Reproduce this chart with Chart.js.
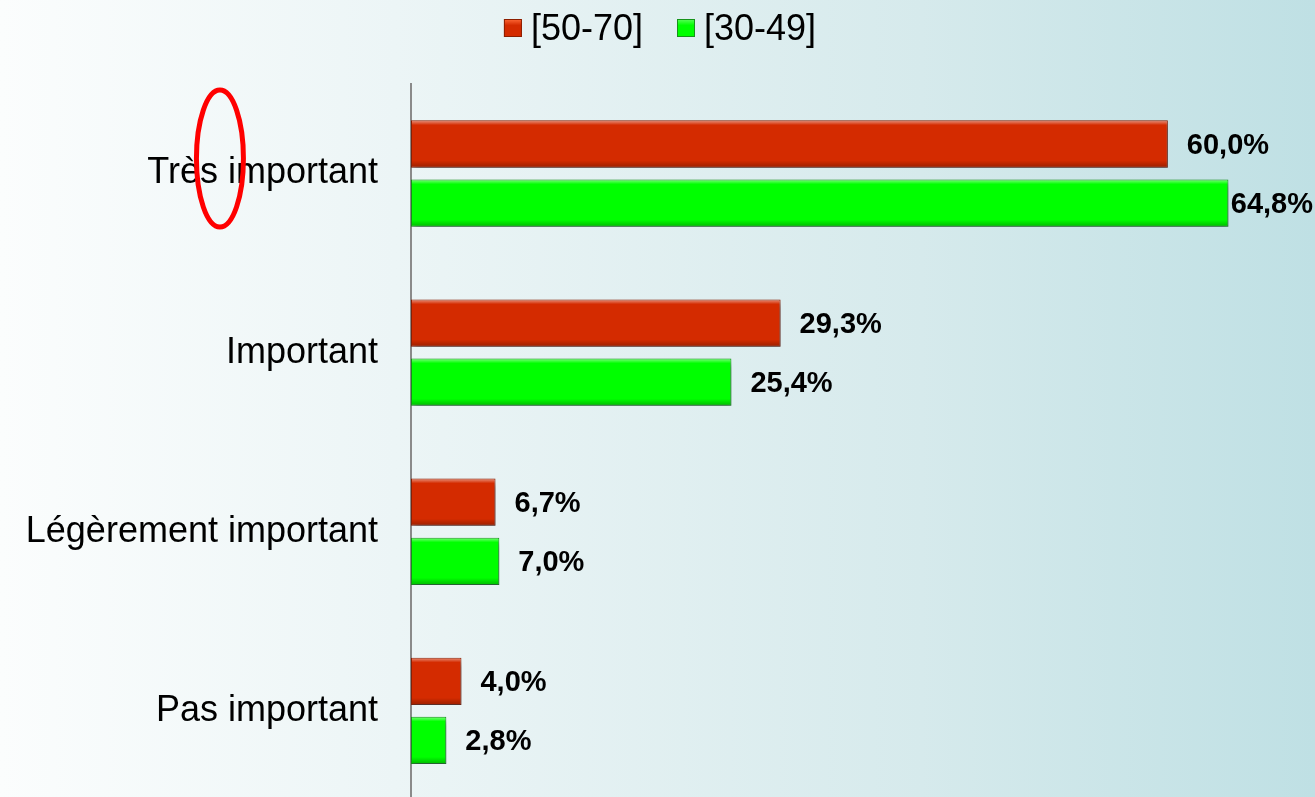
<!DOCTYPE html>
<html>
<head>
<meta charset="utf-8">
<script src="https://cdn.jsdelivr.net/npm/chart.js@4/dist/chart.umd.min.js"></script>
<style>
  html, body { margin: 0; padding: 0; overflow: hidden; background: #fff; }
  #wrap { position: relative; width: 1315px; height: 855px; }
</style>
</head>
<body>
<div id="wrap"><canvas id="c"></canvas></div>
<script>
// ---- data ----
const categories = ['Très important', 'Important', 'Légèrement important', 'Pas important'];
const seriesLabels = ['[50-70]', '[30-49]'];
const values5070 = [60.0, 29.3, 6.7, 4.0];
const values3049 = [64.8, 25.4, 7.0, 2.8];

const FONT = '"Liberation Sans", Arial, sans-serif';
const styles = [
  { base: '#d42b00', light: '#ff6a38', dark: '#8c1e00' },
  { base: '#00ff00', light: '#5cff5c', dark: '#17931a' }
];

function fmt(v) { return v.toFixed(1).replace('.', ',') + '%'; }

const bgPlugin = {
  id: 'bg',
  beforeDraw(chart) {
    const { ctx, width, height } = chart;
    const g = ctx.createLinearGradient(0, 0, width, 0);
    g.addColorStop(0, '#fbfdfd');
    g.addColorStop(0.3, '#ecf5f6');
    g.addColorStop(0.7, '#d6eaec');
    g.addColorStop(1, '#bfe0e4');
    ctx.save();
    ctx.fillStyle = g;
    ctx.fillRect(0, 0, width, height);
    ctx.restore();
  }
};

const shadowPlugin = {
  id: 'barShadow',
  beforeDatasetsDraw(chart) {
    const ctx = chart.ctx;
    ctx.save();
    ctx.shadowColor = 'rgba(50,60,70,0.6)';
    ctx.shadowBlur = 6;
    ctx.shadowOffsetX = 2;
    ctx.shadowOffsetY = 5;
  },
  afterDatasetsDraw(chart) {
    chart.ctx.restore();
    const ctx = chart.ctx;
    chart.data.datasets.forEach((ds, di) => {
      const meta = chart.getDatasetMeta(di);
      meta.data.forEach((el, i) => {
        const p = el.getProps(['x', 'y', 'base', 'height'], true);
        const left = Math.min(p.base, p.x), right = Math.max(p.base, p.x);
        const top = p.y - p.height / 2, bottom = p.y + p.height / 2;
        const g = ctx.createLinearGradient(0, top, 0, bottom);
        g.addColorStop(0, 'rgba(255,255,255,0.5)');
        g.addColorStop(0.1, 'rgba(255,255,255,0.0)');
        g.addColorStop(0.85, 'rgba(0,0,0,0.0)');
        g.addColorStop(1, 'rgba(0,0,0,0.28)');
        ctx.save();
        ctx.fillStyle = g;
        ctx.fillRect(left + 1, top + 1, right - left - 2, bottom - top - 2);
        ctx.restore();
        ctx.save();
        ctx.font = 'bold 29px ' + FONT;
        ctx.fillStyle = '#000';
        ctx.textBaseline = 'middle';
        ctx.textAlign = 'left';
        const txt = fmt(ds.data[i]);
        const w = ctx.measureText(txt).width;
        let tx = right + 19;
        if (tx + w > chart.width - 2) tx = chart.width - 2 - w;
        ctx.fillText(txt, tx, p.y + 2);
        ctx.restore();
      });
    });
  }
};

const legendPlugin = {
  id: 'customLegend',
  afterDraw(chart) {
    const ctx = chart.ctx;
    ctx.save();
    ctx.font = '36px ' + FONT;
    const box = 18, gapText = 9, gapItem = 34;
    const widths = chart.data.datasets.map(d => box + gapText + ctx.measureText(d.label).width);
    const total = widths.reduce((a, b) => a + b, 0) + gapItem * (widths.length - 1);
    let x = 660 - total / 2;
    const cy = 28;
    chart.data.datasets.forEach((d, i) => {
      const st = styles[i];
      const g = ctx.createLinearGradient(0, cy - box / 2, 0, cy + box / 2);
      g.addColorStop(0, st.light);
      g.addColorStop(0.35, st.base);
      g.addColorStop(1, st.base);
      ctx.fillStyle = g;
      ctx.fillRect(x, cy - box / 2, box, box);
      ctx.strokeStyle = st.dark;
      ctx.lineWidth = 1;
      ctx.strokeRect(x + 0.5, cy - box / 2 + 0.5, box - 1, box - 1);
      ctx.fillStyle = '#000';
      ctx.textBaseline = 'middle';
      ctx.textAlign = 'left';
      ctx.fillText(d.label, x + box + gapText, cy + 2);
      x += widths[i] + gapItem;
    });
    ctx.restore();
  }
};

const ellipsePlugin = {
  id: 'ellipseMark',
  afterDraw(chart) {
    const ctx = chart.ctx;
    const ys = chart.scales.y;
    const cy = ys.getPixelForValue(0) - 15;
    ctx.save();
    ctx.font = '36px ' + FONT;
    const labelRight = ys.right - ys.options.ticks.padding;
    const cx = labelRight - ctx.measureText(' important').width + 2;
    ctx.strokeStyle = '#ff0000';
    ctx.lineWidth = 5;
    ctx.beginPath();
    ctx.ellipse(cx, cy, 23.5, 68.5, 0, 0, Math.PI * 2);
    ctx.stroke();
    ctx.restore();
  }
};

new Chart(document.getElementById('c'), {
  type: 'bar',
  data: {
    labels: categories,
    datasets: [
      { label: seriesLabels[0], data: values5070, backgroundColor: styles[0].base, borderColor: styles[0].dark, borderWidth: 1, borderSkipped: false, categoryPercentage: 0.66, barPercentage: 0.8 },
      { label: seriesLabels[1], data: values3049, backgroundColor: styles[1].base, borderColor: styles[1].dark, borderWidth: 1, borderSkipped: false, categoryPercentage: 0.66, barPercentage: 0.8 }
    ]
  },
  options: {
    indexAxis: 'y',
    animation: false,
    responsive: true,
    maintainAspectRatio: false,
    devicePixelRatio: 1,
    layout: { padding: { top: 84, right: 21, bottom: 3, left: 0 } },
    plugins: { legend: { display: false }, tooltip: { enabled: false } },
    scales: {
      x: { display: false, min: 0, max: 70 },
      y: {
        grid: { display: false, drawTicks: false },
        border: { display: true, color: '#8a8a8a', width: 2 },
        ticks: { color: '#000', font: { family: FONT, size: 36 }, padding: 33 },
        afterFit(s) { s.width = 411; }
      }
    }
  },
  plugins: [bgPlugin, shadowPlugin, legendPlugin, ellipsePlugin]
});
</script>
</body>
</html>
